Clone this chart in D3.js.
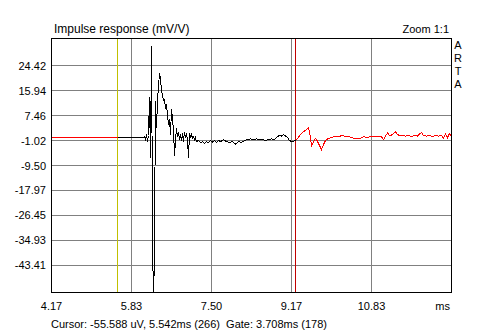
<!DOCTYPE html>
<html><head><meta charset="utf-8">
<script src="https://cdn.jsdelivr.net/npm/d3@7"></script>
<style>
html,body{margin:0;padding:0;background:#fff;}
svg{display:block;font-family:"Liberation Sans",Arial,sans-serif;}
text{white-space:pre;}
</style></head>
<body><svg id="c" width="487" height="334"></svg>
<script>
// ---- data ----
const sampleRate = 48; // samples per ms
const xDomainSamples = [200, 600];
const xTickSamples = [200, 280, 360, 440, 520];
const xTickLabels = ["4.17", "5.83", "7.50", "9.17", "10.83"];
const yTicks = [24.42, 15.94, 7.46, -1.02, -9.50, -17.97, -26.45, -34.93, -43.41];
const yTickLabels = ["24.42", "15.94", "7.46", "-1.02", "-9.50", "-17.97", "-26.45", "-34.93", "-43.41"];
const yDomain = [-52.57, 33.58];
const cursorSample = 266;
const gateEndSample = 444;
const titleText = "Impulse response (mV/V)";
const zoomText = "Zoom 1:1";
const brandLetters = ["A", "R", "T", "A"];
const cursorText = "Cursor: -55.588 uV, 5.542ms (266)  Gate: 3.708ms (178)";
const xUnit = "ms";

const sampleIdx = [200,266,292,293,294,295,296,297,298,299,300,301,302,303,304,305,306,307,308,309,310,311,312,313,314,315,316,317,318,319,320,321,322,323,324,325,326,327,328,329,330,331,332,333,334,335,336,337,338,339,340,341,342,343,344,345,347,349,351,353,355,357,359,361,363,365,367,369,372,375,378,381,384,387,390,393,396,399,402,405,408,411,414,417,420,423,426,428,430,432,434,436,438,440,442,444,446,449,452,454,456,457,459,460,462,464,465,467,469,470,472,474,477,480,483,486,489,491,494,497,500,503,506,509,512,515,518,521,524,527,530,532,534,536,538,540,542,544,546,548,551,554,557,560,563,566,568,570,572,575,578,581,584,587,590,592,594,596,598,600];
const response = [0,0,0,0.34,-0.68,1.0,-1.36,0.68,13.9,-7.1,31.0,-27.8,-62,-33.2,12.5,3.1,12.5,17.3,21.9,20.0,15.6,14.6,12.5,12.9,9.8,11.2,7.8,4.4,6.4,0.7,9.8,6.4,2.4,-6.1,-1.0,3.1,0.3,2.0,-0.7,1.0,-1.0,1.4,-1.4,2.0,-0.3,1.4,-1.0,-6.8,1.4,0.3,1.0,-0.3,0.3,-0.7,0,-1.4,-1.0,-1.7,-1.4,-2.0,-1.4,-1.7,-1.0,-1.5,-1.0,-1.7,-1.0,-1.4,-0.7,-1.4,-1.7,-1.4,-2.2,-1.4,-1.7,-1.0,-0.7,-0.5,-0.8,-0.5,-0.8,-0.7,-1.0,-0.7,-0.5,-0.7,0.3,0.7,0.5,1.0,0.5,0,-1.0,-1.4,-1.2,-1.0,-0.3,1.0,2.0,2.4,3.1,3.4,0,-3.1,-1.4,-0.3,-0.7,-2.0,-3.4,-4.1,-2.4,-1.0,-0.3,0,0.3,0.2,0.5,0.8,0.2,0.3,0,-0.3,-0.2,-0.2,0.3,0,0.2,0.3,0.2,0.2,0.3,-0.7,0.5,1.5,0.7,0.8,1.4,1.9,1.0,0.7,0.7,0.5,0.7,0.3,0.7,0.5,1.2,1.7,0.7,0.5,0.7,0.3,0.7,0.5,0.7,-0.2,1.2,0,1.4,0.5];

// ---- drawing ----
const svg = d3.select("#c");
const L = 51.5, R = 451.5, T = 38.5, B = 292.5;
const x = d3.scaleLinear().domain(xDomainSamples.map(s => s / sampleRate)).range([L, R]);
const y = d3.scaleLinear().domain(yDomain).range([B, T]);

svg.append("defs").append("clipPath").attr("id", "clip")
  .append("rect").attr("x", L).attr("y", T).attr("width", R - L).attr("height", B - T);

const grid = svg.append("g").attr("stroke", "#808080").attr("stroke-width", 1).attr("shape-rendering", "crispEdges");
grid.selectAll("line.v").data(xTickSamples.slice(1)).join("line")
  .attr("x1", d => x(d / sampleRate)).attr("x2", d => x(d / sampleRate)).attr("y1", T).attr("y2", B);
grid.selectAll("line.h").data(yTicks).join("line")
  .attr("x1", L).attr("x2", R).attr("y1", d => y(d)).attr("y2", d => y(d));

// cursor (yellow) and gate end (dark red) lines
svg.append("line").attr("x1", x(cursorSample / sampleRate)).attr("x2", x(cursorSample / sampleRate))
  .attr("y1", T).attr("y2", B).attr("stroke", "#c0c000").attr("shape-rendering", "crispEdges");
svg.append("line").attr("x1", x(gateEndSample / sampleRate)).attr("x2", x(gateEndSample / sampleRate))
  .attr("y1", T).attr("y2", B).attr("stroke", "#c00000").attr("shape-rendering", "crispEdges");

const pts = sampleIdx.map((n, i) => ({n, v: response[i]}));
const line = d3.line().x(d => x(d.n / sampleRate)).y(d => y(d.v));
const plot = svg.append("g").attr("clip-path", "url(#clip)").attr("fill", "none")
  .attr("stroke-width", 1).attr("shape-rendering", "crispEdges");
plot.append("path").datum(pts.filter(d => d.n <= cursorSample)).attr("d", line).attr("stroke", "#ff0000");
plot.append("path").datum(pts.filter(d => d.n >= gateEndSample)).attr("d", line).attr("stroke", "#ff0000");
plot.append("path").datum(pts.filter(d => d.n >= cursorSample && d.n <= gateEndSample)).attr("d", line).attr("stroke", "#000");

// frame
svg.append("rect").attr("x", L).attr("y", T).attr("width", R - L).attr("height", B - T)
  .attr("fill", "none").attr("stroke", "#000").attr("shape-rendering", "crispEdges");

// axes labels
const fs = 11;
svg.append("g").selectAll("text").data(yTicks).join("text")
  .attr("x", 46).attr("y", d => y(d) + 4).attr("text-anchor", "end")
  .attr("font-size", fs).text((d, i) => yTickLabels[i]);
svg.append("g").selectAll("text").data(xTickSamples).join("text")
  .attr("x", d => x(d / sampleRate)).attr("y", 310).attr("text-anchor", "middle")
  .attr("font-size", fs).text((d, i) => xTickLabels[i]);
svg.append("text").attr("x", 450).attr("y", 310).attr("text-anchor", "end").attr("font-size", fs).text(xUnit);

svg.append("text").attr("x", 54).attr("y", 33).attr("font-size", 12).text(titleText);
svg.append("text").attr("x", 449).attr("y", 33).attr("text-anchor", "end").attr("font-size", fs).text(zoomText);
svg.append("g").selectAll("text").data(brandLetters).join("text")
  .attr("x", 458).attr("y", (d, i) => 49 + i * 13).attr("text-anchor", "middle")
  .attr("font-size", fs).text(d => d);
svg.append("text").attr("x", 51).attr("y", 328).attr("font-size", fs).text(cursorText);
</script></body></html>
